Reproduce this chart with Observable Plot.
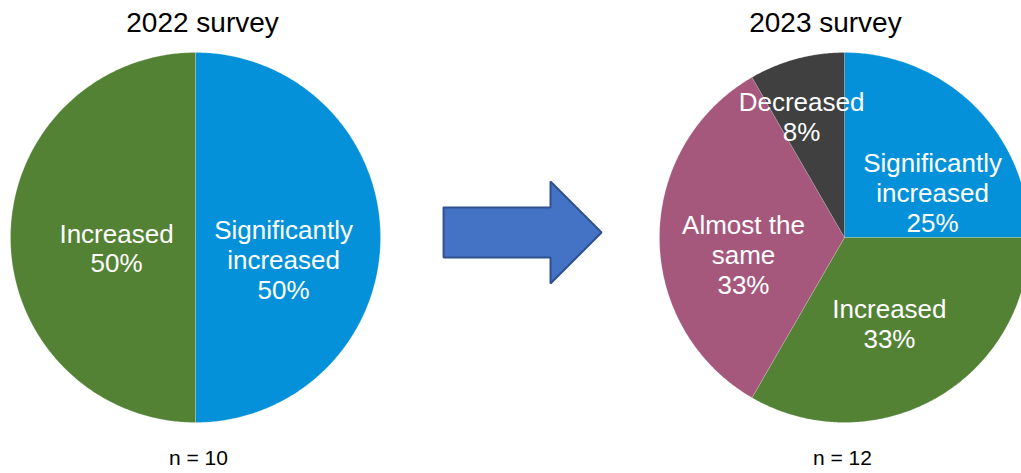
<!DOCTYPE html>
<html>
<head>
<meta charset="utf-8">
<script src="https://cdn.jsdelivr.net/npm/d3@7"></script>
<script src="https://cdn.jsdelivr.net/npm/@observablehq/plot@0.6"></script>
<style>
  html, body { margin: 0; padding: 0; background: #fff; }
</style>
</head>
<body>
<div id="chart"></div>
<script>
// ---- data ----
const surveyTitles = ["2022 survey", "2023 survey"];
const sampleSizes = [10, 12];
const categories2022 = ["Significantly increased", "Increased"];
const counts2022 = [5, 5];
const categories2023 = ["Significantly increased", "Increased", "Almost the same", "Decreased"];
const counts2023 = [3, 4, 4, 1];
const wrappedNames = {
  "Significantly increased": "Significantly\nincreased",
  "Increased": "Increased",
  "Almost the same": "Almost the\nsame",
  "Decreased": "Decreased"
};

// ---- styles / layout ----
const colors = {
  "Significantly increased": "#0591d9",
  "Increased": "#548235",
  "Almost the same": "#a5587c",
  "Decreased": "#404040"
};
const W = 1021, H = 473;
const R = 185;                 // pie radius in px (1 data unit)
const centers = [0, 3.508];    // pie centres (data units, x); y = 0
// label offsets from pie centre (data units)
const labelPos = [
  {"Significantly increased": [0.476, -0.119], "Increased": [-0.427, -0.057]},
  {"Significantly increased": [0.476, 0.243], "Increased": [0.243, -0.465],
   "Almost the same": [-0.546, -0.092], "Decreased": [-0.232, 0.654]}
];
const titleDx = [0.038, -0.103], titleY = 1.157;
const nDx = [0.016, -0.011], nY = -1.195;
const arrowGeom = {x0: 1.341, neck: 1.919, tip: 2.195, yc: 0.027, body: 0.135, head: 0.276};

const pies = [
  {cats: categories2022, vals: counts2022},
  {cats: categories2023, vals: counts2023}
];

// build wedge polygons from the values
const wedges = [];
const labels = [];
pies.forEach((p, pi) => {
  const total = d3.sum(p.vals);
  const arcs = d3.pie().sort(null).value(d => d)(p.vals);
  arcs.forEach((a, i) => {
    const cat = p.cats[i];
    const id = pi + "-" + i;
    const cx = centers[pi];
    const pts = [{id, cat, x: cx, y: 0}];
    const steps = Math.max(2, Math.ceil((a.endAngle - a.startAngle) / 0.01));
    for (let k = 0; k <= steps; k++) {
      const t = a.startAngle + (a.endAngle - a.startAngle) * k / steps;
      pts.push({id, cat, x: cx + Math.sin(t), y: Math.cos(t)});
    }
    pts.push({id, cat, x: cx, y: 0});
    wedges.push({id, cat, pts});
    const off = labelPos[pi][cat];
    labels.push({
      x: cx + off[0], y: off[1],
      text: wrappedNames[cat] + "\n" + Math.round(a.value / total * 100) + "%"
    });
  });
});

const titleRows = surveyTitles.map((t, i) => ({x: centers[i] + titleDx[i], y: titleY, text: t}));
const nRows = sampleSizes.map((n, i) => ({x: centers[i] + nDx[i], y: nY, text: "n = " + n}));

const g = arrowGeom;
const arrowPts = [
  [g.x0, g.yc + g.body], [g.neck, g.yc + g.body], [g.neck, g.yc + g.head],
  [g.tip, g.yc], [g.neck, g.yc - g.head], [g.neck, g.yc - g.body],
  [g.x0, g.yc - g.body], [g.x0, g.yc + g.body]
].map(([x, y]) => ({x, y}));

const font = "Arial, 'Liberation Sans', Helvetica, sans-serif";

const chart = Plot.plot({
  width: W,
  height: H,
  margin: 0,
  style: {fontFamily: font, background: "#fff"},
  x: {domain: [-195 / R, (W - 195) / R], axis: null},
  y: {domain: [-(H - 237) / R, 237 / R], axis: null},
  marks: [
    ...wedges.map(w => Plot.line(w.pts, {
      x: "x", y: "y", fill: colors[w.cat], stroke: "#ffffff", strokeWidth: 0.5, strokeOpacity: 0.35
    })),
    Plot.line(arrowPts, {x: "x", y: "y", fill: "#4472c4", stroke: "#2f528f", strokeWidth: 2, strokeLinejoin: "miter"}),
    Plot.text(labels, {x: "x", y: "y", text: "text", fill: "white", fontSize: 26, lineHeight: 1.14, lineAnchor: "middle", textAnchor: "middle"}),
    Plot.text(titleRows, {x: "x", y: "y", text: "text", fill: "black", fontSize: 28, textAnchor: "middle"}),
    Plot.text(nRows, {x: "x", y: "y", text: "text", fill: "black", fontSize: 21, textAnchor: "middle"})
  ]
});
document.getElementById("chart").appendChild(chart);
</script>
</body>
</html>
